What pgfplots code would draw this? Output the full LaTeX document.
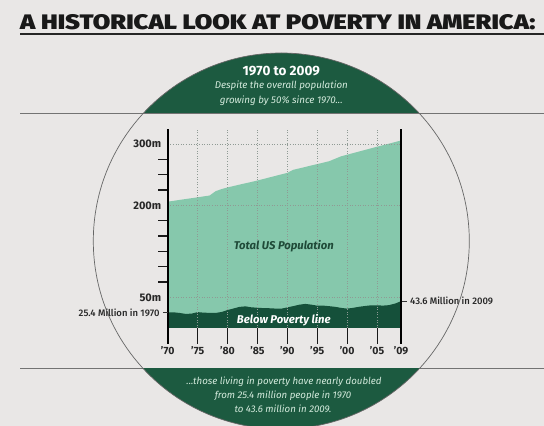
\documentclass[border=0pt]{standalone}
\usepackage{pgfplots}
\pgfplotsset{compat=1.18}
\usepackage{fontspec}
\setmainfont{Fira Sans}
\newfontfamily\titlefont{Fira Sans Black}
\newfontfamily\medfont{Fira Sans Medium}
\definecolor{bg}{HTML}{E9E7E6}
\definecolor{capgreen}{HTML}{1C5A40}
\definecolor{popgreen}{HTML}{86C8AC}
\definecolor{povgreen}{HTML}{15503A}
\definecolor{labgreen}{HTML}{1F4A38}
\definecolor{mint}{HTML}{D3EADC}
\definecolor{gridc}{HTML}{8F9A94}
\pgfplotstableread{
year pop
1970 206.0
1971 207.4
1972 208.9
1973 210.3
1974 211.7
1975 213.1
1976 214.6
1977 216.0
1978 223.0
1979 226.5
1980 229.2
1981 231.5
1982 233.8
1983 236.0
1984 238.2
1985 240.5
1986 243.0
1987 245.5
1988 248.0
1989 250.5
1990 253.0
1991 258.0
1992 260.3
1993 262.6
1994 265.0
1995 267.3
1996 269.6
1997 272.0
1998 276.0
1999 280.0
2000 282.6
2001 285.2
2002 287.8
2003 290.4
2004 293.0
2005 295.6
2006 298.1
2007 300.6
2008 303.2
2009 305.7
}\poptable
\pgfplotstableread{
year pov
1970 25.4
1971 25.6
1972 24.5
1973 23.0
1974 23.4
1975 25.9
1976 25.0
1977 24.7
1978 24.5
1979 26.1
1980 29.3
1981 31.8
1982 34.4
1983 35.3
1984 33.7
1985 33.1
1986 32.4
1987 32.2
1988 31.7
1989 31.5
1990 33.6
1991 35.7
1992 38.0
1993 39.3
1994 38.1
1995 36.4
1996 36.5
1997 35.6
1998 34.5
1999 32.8
2000 31.6
2001 32.9
2002 34.6
2003 35.9
2004 37.0
2005 37.0
2006 36.5
2007 37.3
2008 39.8
2009 43.6
}\povtable
\begin{document}
\begin{tikzpicture}[x=1pt,y=1pt]
\useasboundingbox (0,0) rectangle (544,426);
\begin{scope}
\clip (0,0) rectangle (544,426);
\fill[bg] (0,0) rectangle (544,426);
% title
\node[anchor=base west, inner sep=0pt, text=black!90, xscale=1.21] at (20,396.5) {\titlefont\fontsize{21}{24}\selectfont A HISTORICAL LOOK AT POVERTY IN AMERICA:};
\draw[line width=1.4pt, black!85] (20,392) -- (544,392);
% horizontal rules
\draw[line width=0.7pt, black!55] (20,312.7) -- (544,312.7);
\draw[line width=0.7pt, black!55] (20,58) -- (544,58);
% circle caps
\begin{scope}
\clip (281.3,185) circle (188);
\fill[capgreen] (0,312.7) rectangle (544,426);
\fill[capgreen] (0,0) rectangle (544,58);
\end{scope}
\draw[line width=0.7pt, black!60] (281.3,185) circle (188);
% cap texts
\node[text=white, font=\bfseries\fontsize{13.5}{16}\selectfont] at (281.3,355) {1970 to 2009};
\node[text=mint, font=\itshape\fontsize{9.8}{11}\selectfont] at (281.3,340.3) {Despite the overall population};
\node[text=mint, font=\itshape\fontsize{9.8}{11}\selectfont] at (281.3,325.3) {growing by 50\% since 1970...};
\node[text=mint, font=\itshape\fontsize{9.7}{11}\selectfont] at (284,44.7) {...those living in poverty have nearly doubled};
\node[text=mint, font=\itshape\fontsize{9.7}{11}\selectfont] at (283,30) {from 25.4 million people in 1970};
\node[text=mint, font=\itshape\fontsize{9.7}{11}\selectfont] at (283,16.7) {to 43.6 million in 2009.};
% chart
\begin{axis}[
  at={(167.7pt,98pt)}, anchor=south west, scale only axis,
  width=233.3pt, height=199.3pt,
  xmin=1970, xmax=2009, ymin=0, ymax=325,
  clip=false,
  axis line style={draw=none},
  major tick length=0pt,
  ytick=\empty,
  xtick={1970,1975,1980,1985,1990,1995,2000,2005,2009},
  xticklabels={’70,’75,’80,’85,’90,’95,’00,’05,’09},
  xtick pos=bottom,
  xticklabel style={font=\bfseries\fontsize{10.5}{12}\selectfont, text=black!85, yshift=-15pt},
]
\addplot[fill=popgreen, draw=none] table[x=year, y=pop] {\poptable} \closedcycle;
\addplot[fill=povgreen, draw=none] table[x=year, y=pov] {\povtable} \closedcycle;
% grid
\pgfplotsinvokeforeach{1975,1980,1985,1990,1995,2000,2005}{
  \draw[gridc, dotted, line width=0.6pt] (axis cs:#1,0) -- (axis cs:#1,325);
  \draw[black!90, line width=1.1pt] (axis cs:#1,0) -- ++(0pt,-16pt);
}
\pgfplotsinvokeforeach{50,200,300}{
  \draw[gridc, dotted, line width=0.6pt] (axis cs:1970,#1) -- (axis cs:2009,#1);
}
\pgfplotsinvokeforeach{75,100,125,150,175,225,250,275}{
  \draw[black!90, line width=1.2pt] (axis cs:1970,#1) -- ++(-10pt,0pt);
}
\draw[black, line width=1.8pt] (axis cs:1970,-26) -- (axis cs:1970,325);
\draw[black, line width=1.8pt] (axis cs:2009,-26) -- (axis cs:2009,325);
% y labels
\node[anchor=east, font=\bfseries\fontsize{11}{12}\selectfont, text=black!85] at ([xshift=-3pt]axis cs:1970,300) {300m};
\node[anchor=east, font=\bfseries\fontsize{11}{12}\selectfont, text=black!85] at ([xshift=-3pt]axis cs:1970,200) {200m};
\node[anchor=east, font=\bfseries\fontsize{11}{12}\selectfont, text=black!85] at ([xshift=-3pt]axis cs:1970,50) {50m};
% annotations
\draw[black!80, line width=0.8pt] (axis cs:1970,25.4) -- ++(-5pt,0pt);
\node[anchor=east, font=\medfont\fontsize{9.5}{10}\selectfont, text=black!85, inner sep=1pt] at ([xshift=-7pt]axis cs:1970,25.4) {25.4 Million in 1970};
\draw[black!80, line width=0.8pt] ([xshift=1pt]axis cs:2009,43.6) -- ++(5pt,0pt);
\node[anchor=west, font=\medfont\fontsize{9.5}{10}\selectfont, text=black!85, inner sep=1pt] at ([xshift=8pt]axis cs:2009,43.6) {43.6 Million in 2009};
\node[font=\bfseries\itshape\fontsize{11.3}{12}\selectfont, text=labgreen] at (axis cs:1989.4,133.7) {Total US Population};
\node[font=\bfseries\itshape\fontsize{11.3}{12}\selectfont, text=white] at (axis cs:1989.4,13) {Below Poverty line};
\end{axis}
\end{scope}
\end{tikzpicture}
\end{document}
